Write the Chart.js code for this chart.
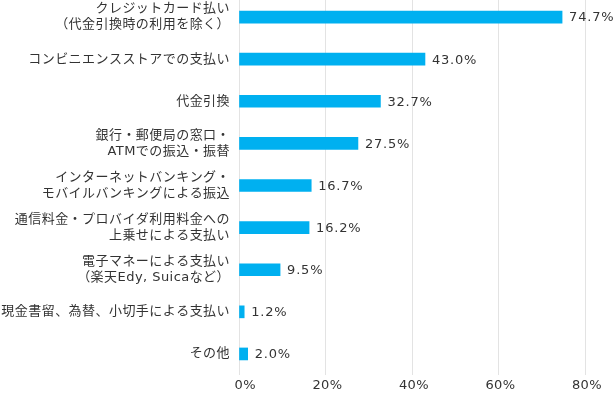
<!DOCTYPE html>
<html>
<head>
<meta charset="utf-8">
<script src="https://cdn.jsdelivr.net/npm/chart.js@4/dist/chart.umd.min.js"></script>
<style>
  html, body { margin: 0; padding: 0; background: #fff; overflow: hidden; }
  #myChart { display: block; margin-top: -4px; }
</style>
</head>
<body>
<canvas id="myChart" width="616" height="397"></canvas>
<script>
// categories (multi-line labels as arrays)
var labels = [
  ["クレジットカード払い", "（代金引換時の利用を除く）"],
  "コンビニエンスストアでの支払い",
  "代金引換",
  ["銀行・郵便局の窓口・", "ATMでの振込・振替"],
  ["インターネットバンキング・", "モバイルバンキングによる振込"],
  ["通信料金・プロバイダ利用料金への", "上乗せによる支払い"],
  ["電子マネーによる支払い", "（楽天Edy, Suicaなど）"],
  "現金書留、為替、小切手による支払い",
  "その他"
];
var values = [74.7, 43.0, 32.7, 27.5, 16.7, 16.2, 9.5, 1.2, 2.0];
var xMin = 0, xMax = 80, xStep = 20;

var barColor = "#00b0f0";
var textColor = "#333333";

Chart.defaults.font.family = "'DejaVu Sans', 'Noto Sans CJK JP', sans-serif";
Chart.defaults.font.size = 13;
Chart.defaults.color = textColor;

// a little letter spacing on every text, as in the original
var spacing = {
  id: "spacing",
  beforeDraw: function(chart) {
    chart.ctx.letterSpacing = "0.45px";
  }
};

// value labels at the end of each bar
var valueLabels = {
  id: "valueLabels",
  afterDatasetsDraw: function(chart) {
    var ctx = chart.ctx;
    var meta = chart.getDatasetMeta(0);
    ctx.save();
    ctx.font = "13px 'DejaVu Sans', sans-serif";
    ctx.letterSpacing = "0.8px";
    ctx.fillStyle = textColor;
    ctx.textAlign = "left";
    ctx.textBaseline = "middle";
    meta.data.forEach(function(bar, i) {
      ctx.fillText(values[i].toFixed(1) + "%", bar.x + 7, bar.y + 1);
    });
    ctx.restore();
  }
};

new Chart("myChart", {
  type: "bar",
  data: {
    labels: labels,
    datasets: [{
      data: values,
      backgroundColor: barColor,
      barThickness: 12,
      clip: false
    }]
  },
  options: {
    indexAxis: "y",
    responsive: false,
    animation: false,
    layout: { padding: { top: 0, right: 31, left: 0, bottom: 0 } },
    plugins: {
      legend: { display: false },
      tooltip: { enabled: false }
    },
    scales: {
      x: {
        min: xMin,
        max: xMax,
        border: { display: false },
        grid: { color: "#e3e3e3", drawTicks: false },
        ticks: {
          stepSize: xStep,
          padding: 3,
          labelOffset: 2,
          callback: function(v) { return String(v).padStart(2, "\u2007") + "%"; }
        },
        afterFit: function(scale) {
          scale.height = 18;
        }
      },
      y: {
        grid: { display: false, drawTicks: false },
        border: { display: false },
        ticks: { padding: 9, font: { lineHeight: 1.23 } },
        afterFit: function(scale) {
          scale.width = 239;
          scale.paddingTop = 0;
          scale.paddingBottom = 0;
        }
      }
    }
  },
  plugins: [spacing, valueLabels]
});
</script>
</body>
</html>
